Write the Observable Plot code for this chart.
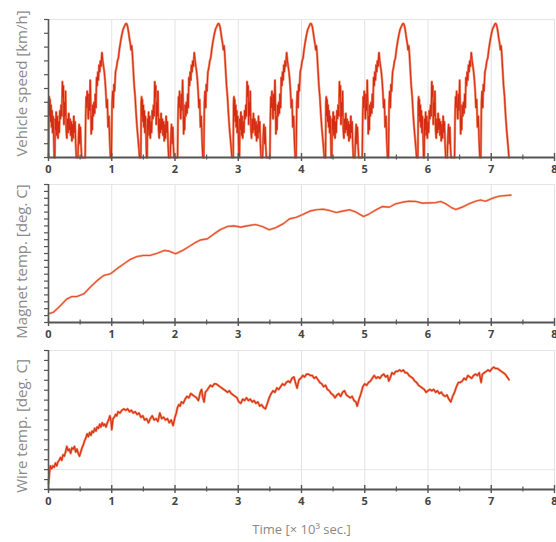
<!DOCTYPE html>
<html><head><meta charset="utf-8">
<script src="https://cdn.jsdelivr.net/npm/d3@7"></script>
<script src="https://cdn.jsdelivr.net/npm/@observablehq/plot@0.6"></script>
<style>
body{margin:0;background:#fff;}
#chart{width:556px;overflow:hidden;}
#chart svg{display:block;overflow:visible;}
</style></head><body><div id="chart"></div>
<script>
// ---- data ----
const xTicks = [0, 1, 2, 3, 4, 5, 6, 7, 8];
const xMinorTicks = [0.5, 1.5, 2.5, 3.5, 4.5, 5.5, 6.5, 7.5];
const xLabel = "Time [× 10³ sec.]";
const speedLabel = "Vehicle speed [km/h]";
const magnetLabel = "Magnet temp. [deg. C]";
const wireLabel = "Wire temp. [deg. C]";

// drive cycle (repeated 5 times in the test)
const cycleStarts = [0, 1.46, 2.92, 4.38, 5.84];
const speedCycleTime = [0.000,0.006,0.012,0.018,0.024,0.032,0.040,0.048,0.056,0.064,0.072,0.080,0.086,0.090,0.100,0.106,0.114,0.122,0.130,0.140,0.150,0.160,0.170,0.180,0.190,0.200,0.210,0.220,0.228,0.236,0.244,0.252,0.260,0.270,0.280,0.290,0.300,0.310,0.320,0.330,0.340,0.350,0.360,0.370,0.380,0.390,0.400,0.410,0.420,0.430,0.440,0.465,0.475,0.485,0.495,0.505,0.515,0.525,0.580,0.588,0.596,0.604,0.612,0.620,0.630,0.640,0.650,0.660,0.668,0.676,0.684,0.692,0.700,0.710,0.720,0.730,0.740,0.750,0.760,0.770,0.780,0.790,0.800,0.810,0.820,0.830,0.845,0.858,0.870,0.882,0.894,0.906,0.918,0.930,0.942,0.955,0.968,0.980,0.995,1.005,1.015,1.025,1.035,1.045,1.060,1.075,1.090,1.105,1.120,1.140,1.160,1.180,1.200,1.220,1.235,1.250,1.265,1.280,1.295,1.305,1.315,1.325,1.340,1.355,1.370,1.385,1.400,1.415,1.430,1.440];
const speedCycleValue = [0,40,44,30,42,26,38,22,34,18,30,20,8,0,0,28,20,33,16,30,14,26,18,34,28,38,30,55,44,52,24,40,30,48,20,14,28,18,32,20,28,16,26,12,24,14,30,18,26,10,0,0,16,24,10,22,8,0,0,30,44,36,48,40,28,46,34,56,40,17,30,20,38,30,40,32,46,36,58,52,62,56,67,62,70,66,76,70,66,62,56,48,36,42,22,30,12,0,0,40,48,36,53,48,62,65,70,72,78,84,89,93,95,97,97,95,91,86,82,78,81,76,64,52,44,32,22,14,6,0];

const magnetTime = [0.00,0.08,0.19,0.29,0.37,0.45,0.56,0.66,0.77,0.87,0.98,1.08,1.19,1.29,1.40,1.50,1.60,1.72,1.83,1.91,2.01,2.12,2.22,2.33,2.41,2.51,2.62,2.72,2.83,2.93,3.04,3.14,3.27,3.38,3.49,3.59,3.71,3.81,3.92,4.02,4.13,4.23,4.34,4.44,4.55,4.65,4.76,4.86,4.98,5.07,5.18,5.28,5.39,5.49,5.60,5.70,5.81,5.91,6.02,6.12,6.20,6.28,6.36,6.44,6.54,6.65,6.75,6.83,6.91,7.02,7.12,7.23,7.31];
const magnetValue = [6.3,7.5,12.3,17.1,18.8,18.8,20.8,25.6,30.4,34.0,35.3,38.9,42.5,45.6,47.8,48.6,48.6,50.2,52.2,51.7,49.8,52.2,55.0,58.2,59.9,60.6,64.3,67.4,69.6,70.0,69.1,70.0,71.0,69.6,67.2,68.6,71.5,75.1,76.3,78.3,80.7,81.7,82.1,81.2,79.7,80.7,81.7,80.0,76.8,78.7,81.7,84.0,83.6,86.0,87.2,87.9,87.7,86.5,86.7,86.9,87.7,86.0,83.6,81.9,83.6,86.0,87.9,88.8,87.9,90.1,91.5,92.0,92.3];

const wireTime = [0.00,0.015,0.03,0.05,0.07,0.09,0.11,0.13,0.15,0.17,0.19,0.21,0.23,0.25,0.27,0.29,0.31,0.33,0.35,0.37,0.39,0.41,0.43,0.45,0.47,0.49,0.51,0.53,0.55,0.57,0.59,0.61,0.63,0.65,0.67,0.69,0.71,0.73,0.75,0.77,0.79,0.81,0.83,0.85,0.87,0.89,0.91,0.93,0.95,0.97,0.99,1.00,1.02,1.04,1.06,1.08,1.10,1.13,1.16,1.19,1.22,1.25,1.28,1.31,1.34,1.37,1.40,1.43,1.46,1.49,1.52,1.55,1.58,1.61,1.64,1.67,1.70,1.73,1.76,1.79,1.82,1.85,1.88,1.91,1.94,1.97,2.00,2.02,2.04,2.06,2.08,2.10,2.13,2.16,2.19,2.22,2.25,2.28,2.31,2.34,2.37,2.40,2.42,2.44,2.46,2.48,2.50,2.53,2.56,2.59,2.62,2.65,2.68,2.71,2.74,2.77,2.80,2.83,2.86,2.89,2.92,2.95,2.98,3.01,3.04,3.07,3.10,3.13,3.16,3.19,3.22,3.25,3.28,3.31,3.34,3.37,3.40,3.43,3.46,3.49,3.52,3.55,3.58,3.61,3.64,3.67,3.70,3.73,3.76,3.79,3.82,3.85,3.88,3.91,3.93,3.96,3.99,4.02,4.05,4.08,4.11,4.14,4.17,4.20,4.23,4.26,4.29,4.32,4.35,4.38,4.41,4.44,4.47,4.50,4.53,4.56,4.59,4.62,4.65,4.68,4.71,4.74,4.77,4.80,4.83,4.86,4.88,4.91,4.94,4.97,5.00,5.03,5.06,5.09,5.12,5.15,5.18,5.21,5.24,5.27,5.30,5.33,5.36,5.38,5.40,5.43,5.46,5.49,5.52,5.55,5.58,5.61,5.64,5.67,5.70,5.73,5.76,5.79,5.82,5.85,5.88,5.91,5.94,5.97,6.00,6.03,6.06,6.09,6.12,6.15,6.18,6.21,6.24,6.27,6.30,6.33,6.36,6.39,6.42,6.45,6.48,6.51,6.54,6.57,6.60,6.63,6.66,6.69,6.72,6.75,6.78,6.81,6.84,6.86,6.89,6.92,6.95,6.98,7.01,7.04,7.07,7.10,7.13,7.16,7.19,7.22,7.25,7.28];
const wireValue = [4,12,17,15,17,16,19,17,20,21,23,21,25,24,27,31,28,29,26,30,29,31,27,29,26,24,27,30,32,35,37,40,38,41,39,42,41,44,42,45,44,47,45,48,46,47,45,48,50,53,49,43,51,52,54,53,56,55,57,58,57,58,56,57,55,56,54,55,52,53,50,51,48,51,53,50,51,49,55,51,52,50,51,48,50,46,52,55,59,61,60,63,62,65,67,66,69,68,67,66,64,70,72,66,63,70,71,73,75,74,76,76,75,74,73,72,71,70,71,69,68,67,66,63,62,65,64,66,64,65,63,64,62,63,60,61,59,58,62,66,69,71,70,73,72,74,76,75,77,78,77,80,81,76,73,79,80,82,81,83,83,82,82,80,81,79,77,76,74,75,72,71,69,68,66,68,69,67,70,71,68,67,66,67,64,63,60,65,69,74,76,75,77,78,80,82,80,81,80,82,83,81,82,78,80,84,83,85,85,86,85,86,84,84,82,81,80,78,77,75,74,73,72,70,71,72,71,72,70,71,69,70,68,67,68,65,63,67,70,74,77,77,78,80,79,82,81,80,82,83,82,84,77,83,84,85,86,85,87,88,87,87,86,85,84,83,81,79];

// ---- tables ----
const speed = cycleStarts.flatMap(s => speedCycleTime.map((t, i) => ({t: +(s + t).toFixed(3), v: speedCycleValue[i]})));
const magnet = magnetTime.map((t, i) => ({t, v: magnetValue[i]}));
const wire = wireTime.map((t, i) => ({t, v: wireValue[i]}));

const AXIS = "#555";
function panel({data, height, marginTop, marginBottom, yTicks, yGrid, label, labelDy = 0, halo, core, haloW, coreW, bottomLabel}) {
  const marks = [
    Plot.gridX(xTicks, {stroke: "#e2e2e2", strokeOpacity: 1}),
    Plot.gridY(yGrid, {stroke: "#e6e6e6", strokeOpacity: 1}),
    Plot.line(data, {x: "t", y: "v", stroke: halo, strokeWidth: haloW, strokeLinejoin: "round"}),
    Plot.line(data, {x: "t", y: "v", stroke: core, strokeWidth: coreW, strokeLinejoin: "round"}),
    Plot.ruleX([0], {stroke: AXIS, strokeWidth: 1.6}),
    Plot.axisY({ticks: yTicks, tickSize: 4, tickFormat: () => "", label: null, stroke: AXIS, strokeWidth: 1.2}),
    Plot.ruleY([0], {stroke: AXIS, strokeWidth: 2}),
    Plot.axisX({ticks: xTicks, tickSize: 8, dy: -4, tickFormat: () => "", label: null, stroke: AXIS, strokeWidth: 1.4}),
    Plot.axisX({ticks: xMinorTicks, tickSize: 5, dy: -2.5, tickFormat: () => "", label: null, stroke: AXIS, strokeWidth: 1.2}),
    Plot.axisX({ticks: xTicks, tickSize: 0, tickPadding: 8, label: null, fontWeight: "bold", fontSize: 11, fill: "#444"}),
    Plot.text([label], {frameAnchor: "left", textAnchor: "middle", rotate: -90, dx: -26, dy: labelDy, fontSize: 15, fill: "#8a8a8a"})
  ];
  if (bottomLabel) marks.push(Plot.text([bottomLabel], {frameAnchor: "bottom", textAnchor: "middle", dy: 44, fontSize: 13, fill: "#888"}));
  return Plot.plot({
    width: 556, height, marginLeft: 48, marginRight: 2, marginTop, marginBottom,
    x: {domain: [0, 8]}, y: {domain: [0, 100]},
    style: {fontFamily: "'Open Sans', sans-serif", background: "transparent", overflow: "visible"},
    marks
  });
}

const chart = document.getElementById("chart");
chart.append(panel({data: speed, height: 178, marginTop: 19, marginBottom: 21,
  yTicks: d3.range(0, 100.01, 10), yGrid: [100], label: speedLabel, labelDy: -5,
  halo: "#f08462", core: "#d42a12", haloW: 2.4, coreW: 1.0}));
chart.append(panel({data: magnet, height: 167, marginTop: 6, marginBottom: 23,
  yTicks: d3.range(0, 100.01, 5), yGrid: [100], label: magnetLabel, labelDy: 8,
  halo: "#f5a88c", core: "#e4502f", haloW: 2.2, coreW: 1.1}));
chart.append(panel({data: wire, height: 197, marginTop: 5, marginBottom: 53,
  yTicks: d3.range(0, 100.01, 100 / 14), yGrid: [100 / 7, 100], label: wireLabel, labelDy: 6,
  halo: "#f28a64", core: "#d63018", haloW: 2.4, coreW: 1.1, bottomLabel: xLabel}));
</script>
</body></html>
